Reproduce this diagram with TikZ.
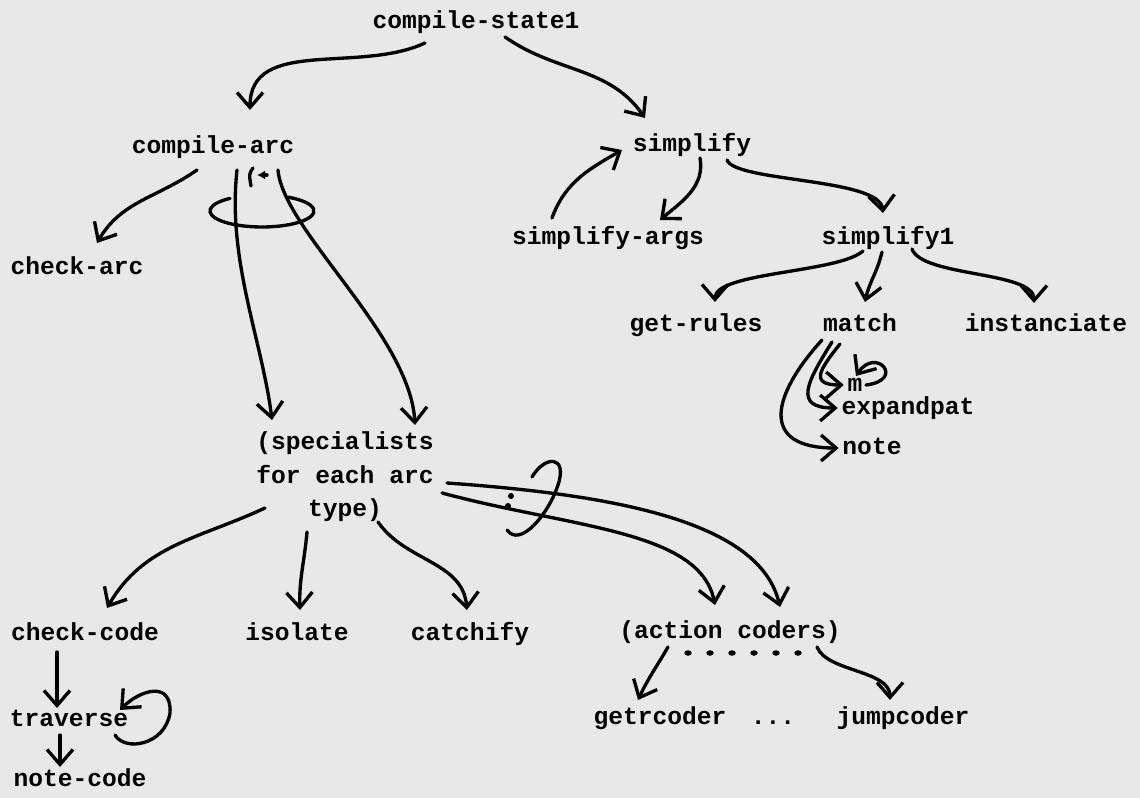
\documentclass[tikz,border=0pt]{standalone}
\usepackage{fontspec}
\setmonofont{Liberation Mono}
\usetikzlibrary{arrows.meta,calc}

\tikzset{
  lbl/.style={font=\ttfamily\bfseries\fontsize{14}{19}\selectfont, inner sep=2pt,
    text height=10pt, text depth=3pt},
  multi/.style={font=\ttfamily\bfseries\fontsize{14}{19}\selectfont, inner sep=2pt, align=center},
  arr/.style={line width=1.9pt, line cap=round, -{Straight Barb[length=3mm,width=5.2mm]}},
  penline/.style={line width=1.9pt, line cap=round},
}

\begin{document}
\begin{tikzpicture}[x=0.2mm, y=0.2mm]

% Paper
\fill[black!9] (0,0) rectangle (1140,-798);
\useasboundingbox (0,0) rectangle (1140,-798);

% Top levels
\node[lbl] (cs) at (476,-22) {compile-state1};
\node[lbl] (carc) at (213,-147) {compile-arc};
\node[lbl] (simp) at (692,-145) {simplify};
\node[lbl] (chkarc) at (77,-268) {check-arc};
\node[lbl] (simpargs) at (608,-238) {simplify-args};
\node[lbl] (simpone) at (888,-238) {simplify1};

% Under simplify1
\node[lbl] (getrules) at (696,-325) {get-rules};
\node[lbl] (match) at (860,-325) {match};
\node[lbl] (inst) at (1046,-325) {instanciate};
\node[lbl] (mm) at (855,-385) {m};
\node[lbl] (expat) at (908,-408) {expandpat};
\node[lbl] (note) at (872,-448) {note};

% Specialists
\node[multi] (spec) at (345,-477) {(specialists\\for each arc\\type)};
\node[lbl] (chkcode) at (85,-634) {check-code};
\node[lbl] (isolate) at (297,-634) {isolate};
\node[lbl] (catchify) at (470,-634) {catchify};
\node[lbl] (acoders) at (730,-632) {(action coders)};
\node[lbl] (getr) at (660,-718) {getrcoder};
\node[lbl] (dotsthree) at (773,-718) {...};
\node[lbl] (jump) at (903,-718) {jumpcoder};
\node[lbl] (trav) at (69,-720) {traverse};
\node[lbl] (notecode) at (80,-780) {note-code};

% compile-state1
\draw[arr] ($(cs)+(-51,-21)$) to[out=205,in=90] ($(carc)+(37,37)$);
\draw[arr] ($(cs)+(29,-15)$) to[out=-35,in=125] ($(simp)+(-47,27)$);

% compile-arc
\draw[arr] ($(carc)+(-16,-23)$) to[out=215,in=60] ($(chkarc)+(20,25)$);
\draw[arr] ($(carc)+(24,-23)$) .. controls +(-10,-90) and +(-10,80) .. ($(spec)+(-73,57)$);
\draw[arr] ($(carc)+(65,-23)$) .. controls +(5,-60) and +(-5,90) .. ($(spec)+(70,52)$);
\draw[penline] ($(carc)+(49,-64)$) ++({52*cos(128)},{16*sin(128)})
  arc[start angle=128, end angle=420, x radius=52, y radius=16];
\draw[penline] (253,-168) .. controls (249,-174) .. (251,-186);
\draw[penline, -{Latex[length=1.6mm,width=1.8mm]}] (267,-175) -- (257,-175);

% simplify
\draw[arr] ($(simpargs)+(-56,20)$) to[out=70,in=210] ($(simp)+(-70,-5)$);
\draw[arr] ($(simp)+(8,-13)$) to[out=-80,in=40] ($(simpargs)+(52,18)$);
\draw[arr] ($(simp)+(35,-15)$) .. controls +(8,-22) and +(-3,35) .. ($(simpone)+(-5,25)$);

% simplify1
\draw[arr] ($(simpone)+(-25,-13)$) .. controls +(-25,-22) and +(0,30) .. ($(getrules)+(19,23)$);
\draw[arr] ($(simpone)+(-6,-14)$) to[out=-103,in=78] ($(match)+(5,23)$);
\draw[arr] ($(simpone)+(24,-11)$) .. controls +(10,-28) and +(0,32) .. ($(inst)+(-12,22)$);

% match
\draw[arr] ($(match)+(-20,-19)$) .. controls +(-20,-25) and +(-35,0) .. (mm.west);
\draw[arr] ($(match)+(-28,-17)$) .. controls +(-25,-40) and +(-45,0) .. (expat.west);
\draw[arr] ($(match)+(-38,-15)$) .. controls +(-50,-55) and +(-80,0) .. (note.west);
\draw[arr] ($(mm)+(11,0)$) .. controls +(40,5) and +(20,30) .. ($(mm)+(1,9)$);

% specialists
\draw[arr] ($(spec)+(-80,-31)$) to[out=205,in=60] ($(chkcode)+(22,26)$);
\draw[arr] ($(spec)+(-38,-55)$) to[out=-95,in=92] ($(isolate)+(3,24)$);
\draw[arr] ($(spec)+(33,-45)$) to[out=-55,in=95] ($(catchify)+(-3,24)$);
\draw[arr] ($(spec)+(102,-6)$) .. controls +(170,-12) and +(-20,85) .. ($(acoders)+(50,25)$);
\draw[arr] ($(spec)+(97,-16)$) .. controls +(130,-35) and +(-15,75) .. ($(acoders)+(-15,27)$);
\draw[penline] (532,-477) .. controls (545,-455) and (568,-455) .. (558,-485)
  .. controls (548,-515) and (520,-548) .. (507,-530);
\fill (511,-496) circle[radius=0.6mm];
\fill (508,-506) circle[radius=0.6mm];

% action coders
\draw[arr] ($(acoders)+(-62,-15)$) to[out=240,in=65] ($(getr)+(-22,18)$);
\draw[arr] ($(acoders)+(87,-15)$) .. controls +(10,-25) and +(0,30) .. ($(jump)+(-13,18)$);
\foreach \i in {0,...,5}
  \fill ($(acoders)+(-42+22*\i,-21)$) circle[x radius=0.75mm, y radius=0.55mm];

% check-code
\draw[arr] ($(chkcode)+(-28,-18)$) -- ($(trav)+(-12,12)$);
\draw[arr] ($(trav)+(-9,-15)$) -- ($(notecode)+(-20,13)$);
\draw[arr] ($(trav)+(46,-15)$) .. controls +(10,-17) and +(-5,-32) .. ($(trav)+(101,7)$)
  .. controls +(2,33) and +(20,20) .. ($(trav)+(51,10)$);

\end{tikzpicture}
\end{document}
